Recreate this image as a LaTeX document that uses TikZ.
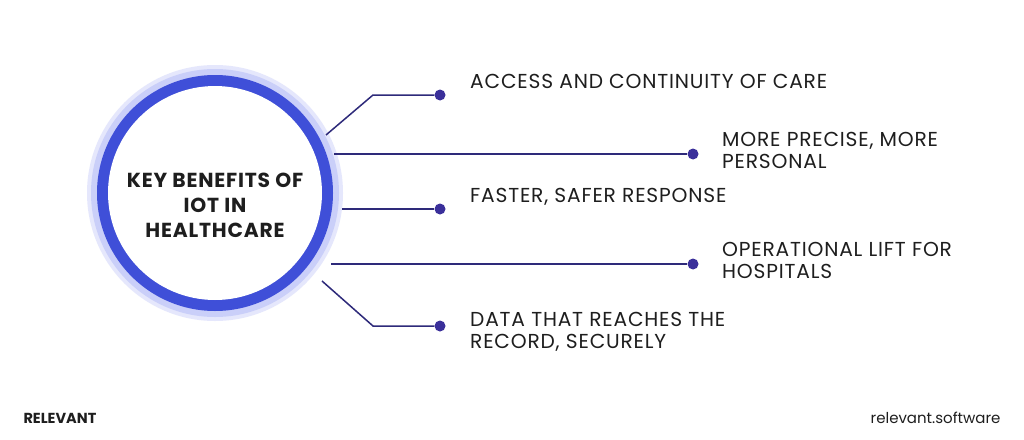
\documentclass[tikz,border=0pt]{standalone}
\usepackage{fontspec}
\setmainfont{Poppins}
\newfontfamily\spacedfont[LetterSpace=4]{Poppins}
\definecolor{ringblue}{HTML}{3F4FD8}
\definecolor{glowblue}{HTML}{B4BAF6}
\definecolor{lineviolet}{HTML}{2E2A7A}
\definecolor{dotviolet}{HTML}{3A2F9A}
\definecolor{txtgray}{HTML}{1E1E1E}
\tikzset{
  benefit/.style={anchor=north west, align=left, text=txtgray, inner sep=0pt,
    font=\spacedfont\fontsize{20.2}{22}\selectfont},
  link/.style={draw=lineviolet, line width=1.5pt},
  dot/.style={circle, fill=dotviolet, minimum size=11pt, inner sep=0pt}
}
\begin{document}
\begin{tikzpicture}[x=1pt,y=-1pt]
\useasboundingbox[fill=white] (0,0) rectangle (1024,439);
% circle
\fill[glowblue!35] (215,193) circle (128);
\fill[glowblue!70] (215,193) circle (124);
\fill[ringblue] (215,193) circle (118);
\fill[white] (215,193) circle (107);
\node[align=center, font=\spacedfont\fontsize{20.3}{25}\selectfont\bfseries, text=txtgray] (hub) at (215,205)
  {KEY BENEFITS OF\\IOT IN\\HEALTHCARE};
% end points
\coordinate (s1) at (326,135);
\coordinate (s2) at (334,154);
\coordinate (s3) at (342,209);
\coordinate (s4) at (331,264);
\coordinate (s5) at (322,281);
\node[dot] (d1) at (440,95) {};
\node[dot] (d2) at (693,154) {};
\node[dot] (d3) at (440,209) {};
\node[dot] (d4) at (693,264) {};
\node[dot] (d5) at (440,326) {};
% texts
\node[benefit] (t1) at (470,74) {ACCESS AND CONTINUITY OF CARE};
\node[benefit] (t2) at (722,132) {MORE PRECISE, MORE\\PERSONAL};
\node[benefit] (t3) at (470,188) {FASTER, SAFER RESPONSE};
\node[benefit] (t4) at (722,242) {OPERATIONAL LIFT FOR\\HOSPITALS};
\node[benefit] (t5) at (470,312) {DATA THAT REACHES THE\\RECORD, SECURELY};
% connectors
\draw[link] (s1) -- (373,95) -- (d1);
\draw[link] (s2) -- (d2);
\draw[link] (s3) -- (d3);
\draw[link] (s4) -- (d4);
\draw[link] (s5) -- (373,326) -- (d5);
% footer
\node[anchor=west, font=\fontsize{14.5}{16}\selectfont\bfseries, text=txtgray] (brand) at (20,418) {RELEVANT};
\node[anchor=east, font=\fontsize{15}{16}\selectfont, text=txtgray] (site) at (1004,418) {relevant.software};
\end{tikzpicture}
\end{document}
